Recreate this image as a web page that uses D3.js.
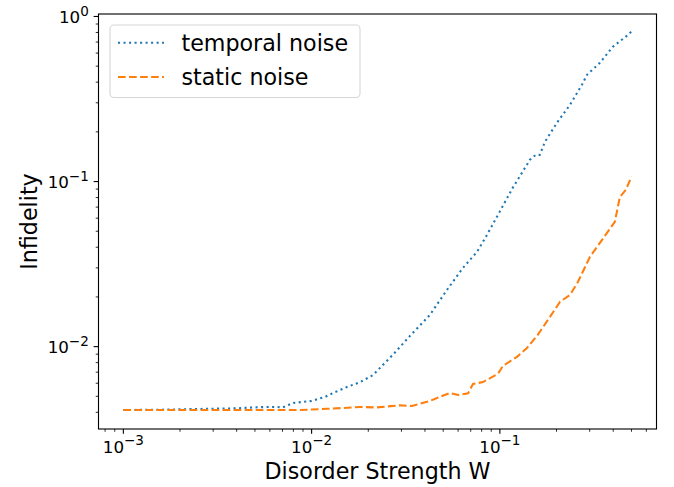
<!DOCTYPE html>
<html>
<head>
<meta charset="utf-8">
<script src="https://cdn.jsdelivr.net/npm/d3@7"></script>
<style>
  body { margin: 0; background: #fff; }
  text { font-family: "DejaVu Sans", sans-serif; fill: #000; }
</style>
</head>
<body>
<script>
// temporal noise (blue, dotted)
var temporalW = [0.001, 0.0016, 0.0025, 0.004, 0.0053, 0.0066, 0.0070, 0.0080, 0.0089, 0.0100,
  0.0118, 0.0130, 0.0154, 0.0181, 0.0212, 0.0239, 0.0270, 0.0333, 0.0425, 0.0524,
  0.0637, 0.0756, 0.0854, 0.0977, 0.117, 0.1445, 0.155, 0.163, 0.1735, 0.201,
  0.236, 0.273, 0.290, 0.340, 0.398, 0.47, 0.5];
var temporalInf = [0.00413, 0.00415, 0.00419, 0.00423, 0.00430, 0.00431, 0.00428, 0.00456, 0.00462, 0.00469,
  0.00496, 0.00524, 0.00569, 0.00610, 0.00673, 0.00774, 0.00891, 0.01162, 0.01556, 0.0221,
  0.0300, 0.0375, 0.0475, 0.0628, 0.0916, 0.1355, 0.145, 0.145, 0.174, 0.227,
  0.292, 0.386, 0.443, 0.524, 0.655, 0.76, 0.81];

// static noise (orange, dashed)
var staticW = [0.001, 0.002, 0.004, 0.0087, 0.0120, 0.0147, 0.0181, 0.0220, 0.0294, 0.0341,
  0.0425, 0.0481, 0.0543, 0.0600, 0.0678, 0.0720, 0.0813, 0.0977, 0.1038, 0.1233,
  0.1393, 0.159, 0.1845, 0.2085, 0.236, 0.260, 0.301, 0.352, 0.408, 0.434, 0.467, 0.5];
var staticInf = [0.00413, 0.00413, 0.00413, 0.00413, 0.00420, 0.00425, 0.00431, 0.00428, 0.00441, 0.00437,
  0.00469, 0.00496, 0.00524, 0.00509, 0.00521, 0.00594, 0.00610, 0.00684, 0.00764, 0.00867,
  0.00982, 0.01178, 0.01514, 0.01866, 0.0206, 0.0247, 0.0350, 0.0450, 0.0570, 0.0807, 0.0891, 0.107];

var seriesNames = ["temporal noise", "static noise"];
var xTitle = "Disorder Strength W";
var yTitle = "Infidelity";

// axis limits (log10)
var xLim = [-3.132, -0.168];
var yLim = [-2.499, 0.015];

var width = 674, height = 487;
var margin = {top: 14, right: 17.5, bottom: 58, left: 98.5};

var svg = d3.select("body").append("svg")
  .attr("width", width)
  .attr("height", height);

var x = d3.scaleLog()
  .domain([Math.pow(10, xLim[0]), Math.pow(10, xLim[1])])
  .range([margin.left, width - margin.right]);
var y = d3.scaleLog()
  .domain([Math.pow(10, yLim[0]), Math.pow(10, yLim[1])])
  .range([height - margin.bottom, margin.top]);

var x0 = margin.left, x1 = width - margin.right;
var y0 = height - margin.bottom, y1 = margin.top;

function isMajor(v) {
  var l = Math.log10(v);
  return Math.abs(l - Math.round(l)) < 1e-9;
}
// "10" with a superscript exponent, like matplotlib mathtext
function expText(sel, v) {
  var e = Math.round(Math.log10(v));
  sel.append("tspan").text("10");
  sel.append("tspan")
    .attr("dy", -7.5)
    .attr("font-size", 13.5)
    .text(e < 0 ? "\u2212" + (-e) : String(e));
}

// lines
var line = d3.line()
  .x(d => x(d[0]))
  .y(d => y(d[1]));

svg.append("defs").append("clipPath").attr("id", "clip")
  .append("rect").attr("x", x0).attr("y", y1).attr("width", x1 - x0).attr("height", y0 - y1);

var plot = svg.append("g").attr("clip-path", "url(#clip)");

plot.append("path")
  .datum(temporalW.map((w, i) => [w, temporalInf[i]]))
  .attr("d", line)
  .attr("fill", "none")
  .attr("stroke", "#1f77b4")
  .attr("stroke-width", 2.08)
  .attr("stroke-dasharray", "2.08,3.43");

plot.append("path")
  .datum(staticW.map((w, i) => [w, staticInf[i]]))
  .attr("d", line)
  .attr("fill", "none")
  .attr("stroke", "#ff7f0e")
  .attr("stroke-width", 2.08)
  .attr("stroke-dasharray", "7.7,3.33");

// x ticks
var xt = x.ticks().filter(v => v >= x.domain()[0] && v <= x.domain()[1]);
var gx = svg.append("g");
gx.selectAll("line").data(xt).enter().append("line")
  .attr("x1", d => x(d)).attr("x2", d => x(d))
  .attr("y1", y0).attr("y2", d => y0 + (isMajor(d) ? 4.86 : 2.78))
  .attr("stroke", "#000")
  .attr("stroke-width", d => isMajor(d) ? 1.11 : 0.83);
gx.selectAll("text").data(xt.filter(isMajor)).enter().append("text")
  .attr("x", d => x(d))
  .attr("y", 452.7)
  .attr("text-anchor", "middle")
  .attr("font-size", 16.7)
  .each(function(d) { expText(d3.select(this), d); });

// y ticks
var yt = y.ticks().filter(v => v >= y.domain()[0] && v <= y.domain()[1]);
var gy = svg.append("g");
gy.selectAll("line").data(yt).enter().append("line")
  .attr("y1", d => y(d)).attr("y2", d => y(d))
  .attr("x1", x0).attr("x2", d => x0 - (isMajor(d) ? 4.86 : 2.78))
  .attr("stroke", "#000")
  .attr("stroke-width", d => isMajor(d) ? 1.11 : 0.83);
gy.selectAll("text").data(yt.filter(isMajor)).enter().append("text")
  .attr("x", x0 - 4.86 - 4.86)
  .attr("y", d => y(d) + 6.6)
  .attr("text-anchor", "end")
  .attr("font-size", 16.7)
  .each(function(d) { expText(d3.select(this), d); });

// frame
svg.append("rect")
  .attr("x", x0).attr("y", y1)
  .attr("width", x1 - x0).attr("height", y0 - y1)
  .attr("fill", "none")
  .attr("stroke", "#000")
  .attr("stroke-width", 1.11);

// axis titles
svg.append("text")
  .attr("x", (x0 + x1) / 2)
  .attr("y", 478.5)
  .attr("text-anchor", "middle")
  .attr("font-size", 22.2)
  .text(xTitle);

svg.append("text")
  .attr("transform", "translate(36.5," + ((y0 + y1) / 2) + ") rotate(-90)")
  .attr("text-anchor", "middle")
  .attr("font-size", 22.2)
  .text(yTitle);

// legend
var leg = svg.append("g");
leg.append("rect")
  .attr("x", 110).attr("y", 25)
  .attr("width", 250).attr("height", 72.5)
  .attr("rx", 4).attr("ry", 4)
  .attr("fill", "#fff").attr("fill-opacity", 0.8)
  .attr("stroke", "#d6d6d6").attr("stroke-width", 1.11);

var legStyles = [
  {color: "#1f77b4", dash: "2.08,3.43"},
  {color: "#ff7f0e", dash: "7.7,3.33"}
];
var legRows = leg.selectAll("g.row").data(seriesNames).enter().append("g")
  .attr("class", "row")
  .attr("transform", (d, i) => "translate(0," + (42.7 + i * 34.3) + ")");
legRows.append("line")
  .attr("x1", 118).attr("x2", 164)
  .attr("y1", 0).attr("y2", 0)
  .attr("stroke", (d, i) => legStyles[i].color)
  .attr("stroke-width", 2.08)
  .attr("stroke-dasharray", (d, i) => legStyles[i].dash);
legRows.append("text")
  .attr("x", 181.5)
  .attr("y", 8)
  .attr("font-size", 22.2)
  .text(d => d);
</script>
</body>
</html>
